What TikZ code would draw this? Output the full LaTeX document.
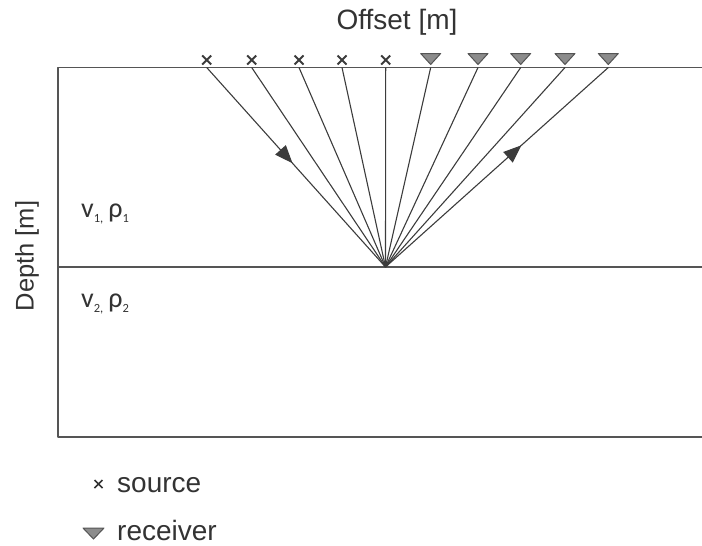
\documentclass[tikz,border=0pt]{standalone}
\usepackage{fontspec}
\setmainfont{Liberation Sans}
\newfontfamily\calib{Carlito}
\usetikzlibrary{arrows.meta,decorations.markings,calc}
\definecolor{linegray}{HTML}{555555}
\definecolor{raygray}{HTML}{3C3C3C}
\definecolor{txtgray}{HTML}{333333}
\definecolor{trifill}{HTML}{8C8C8C}
\begin{document}
\begin{tikzpicture}[x=1pt,y=-1pt,line join=round,
  frame/.style={draw=linegray,line width=1.6pt},
  ray/.style={draw=raygray,line width=1.1pt},
  srcmark/.style={draw=raygray,line width=2pt},
  recmark/.style={draw=linegray,fill=trifill,line width=1pt},
  lbl/.style={text=txtgray,inner sep=0pt},
  arrowmid/.style={postaction={decorate},decoration={markings,
     mark=at position #1 with {\arrow{Triangle[length=18pt,width=14pt]}}}}]
\useasboundingbox (0,0) rectangle (702,546);
% frame
\coordinate (TL) at (58,67.5);
\coordinate (TR) at (702,67.5);
\coordinate (BL) at (58,437);
\coordinate (BR) at (702,437);
\coordinate (IL) at (58,267);
\coordinate (IR) at (702,267);
\draw[frame] (TR) -- (TL) -- (BL) -- (BR);
\draw[frame] (IL) -- (IR);
% reflection point
\coordinate (R) at (385.5,267);
% sources
\foreach \n/\x in {1/206.7,2/251.7,3/299,4/342,5/385.7}{
  \coordinate (s\n) at (\x,67.5);
  \draw[srcmark] ($(\x,60)+(-4.5,-4.5)$) -- ($(\x,60)+(4.5,4.5)$)
                 ($(\x,60)+(-4.5,4.5)$) -- ($(\x,60)+(4.5,-4.5)$);
}
% receivers
\foreach \n/\x in {1/430.7,2/478,3/520.7,4/565,5/608.3}{
  \coordinate (r\n) at (\x,67.5);
  \draw[recmark] ($(\x,53.5)+(-10,0)$) -- ($(\x,53.5)+(10,0)$) -- (\x,64.5) -- cycle;
}
% rays
\draw[ray,arrowmid=0.48] (s1) -- (R);
\foreach \n in {2,3,4,5}{\draw[ray] (s\n) -- (R);}
\foreach \n in {1,2,3,4}{\draw[ray] (R) -- (r\n);}
\draw[ray,arrowmid=0.61] (R) -- (r5);
% labels
\node[lbl,anchor=base,font=\fontsize{28}{30}\selectfont] (off) at (397,29) {Offset [m]};
\node[lbl,anchor=base,rotate=90,font=\fontsize{25.5}{30}\selectfont] (dep) at (33.5,256) {Depth [m]};
\node[lbl,anchor=base west,font=\calib\fontsize{28}{30}\selectfont] (l1) at (81,217.5)
  {v\raisebox{-4.5pt}{\fontsize{12.5}{12}\selectfont 1,}\hspace{5pt}ρ\raisebox{-4.5pt}{\fontsize{12.5}{12}\selectfont 1}};
\node[lbl,anchor=base west,font=\calib\fontsize{28}{30}\selectfont] (l2) at (81,307.5)
  {v\raisebox{-4.5pt}{\fontsize{12.5}{12}\selectfont 2,}\hspace{5pt}ρ\raisebox{-4.5pt}{\fontsize{12.5}{12}\selectfont 2}};
% legend
\draw[draw=txtgray,line width=1.6pt] (94.5,480) -- (102.5,488) (94.5,488) -- (102.5,480);
\node[lbl,anchor=base west,font=\fontsize{28}{30}\selectfont] (lsrc) at (117,492) {source};
\draw[recmark] (83,528) -- (104,528) -- (93.5,539) -- cycle;
\node[lbl,anchor=base west,font=\fontsize{28}{30}\selectfont] (lrec) at (117,540) {receiver};
\end{tikzpicture}
\end{document}
